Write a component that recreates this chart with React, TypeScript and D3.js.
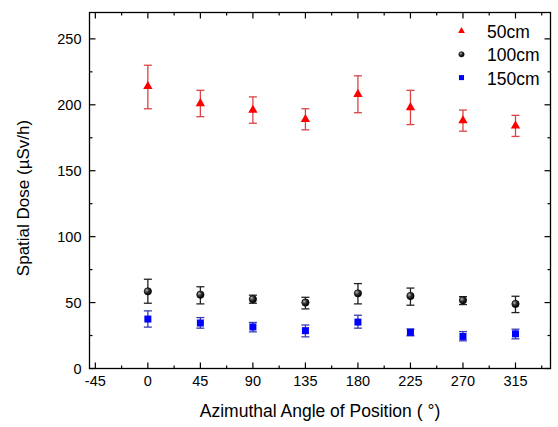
import React from 'react';
import * as d3 from 'd3';

// angles in degrees
const angles = [0, 45, 90, 135, 180, 225, 270, 315];

// spatial dose (uSv/h) at each angle, with error bar low/high
const dose50 = [214, 201, 196, 189, 208, 198, 188, 184];
const lo50 = [197, 191, 186, 181, 194, 185, 180, 176];
const hi50 = [230, 211, 206, 197, 222, 211, 196, 192];

const dose100 = [58.5, 56, 52.6, 50, 57, 55, 51.8, 49];
const lo100 = [49.5, 49, 49.5, 45.2, 49, 48, 48.5, 42.4];
const hi100 = [67.7, 62, 55.6, 54, 64.4, 61, 54.5, 54.8];

const dose150 = [37.5, 34.5, 31.5, 28.7, 35.2, 27.4, 24.3, 26.3];
const lo150 = [31.4, 30.6, 27.8, 24, 30.6, 24.8, 21, 22.5];
const hi150 = [43.7, 38.6, 34.9, 33, 40.4, 30, 28, 29.8];

const xTicks = [-45, 0, 45, 90, 135, 180, 225, 270, 315];
const xMinor = [-22.5, 22.5, 67.5, 112.5, 157.5, 202.5, 247.5, 292.5, 337.5];
const yTicks = [0, 50, 100, 150, 200, 250];
const yMinor = [25, 75, 125, 175, 225];

const seriesNames = ['50cm', '100cm', '150cm'];

const W = 558, H = 427;
const left = 89.5, right = 550.5, top = 12.5, bottom = 368.5;
const font = 'Arial, "Liberation Sans", sans-serif';

export default function App() {
  const x = d3.scaleLinear().domain([-50, 345]).range([left, right]);
  const y = d3.scaleLinear().domain([0, 270]).range([bottom, top]);

  const series = [
    { dose: dose50, lo: lo50, hi: hi50, color: '#ff0000', bar: '#d94545', shape: 'tri' },
    { dose: dose100, lo: lo100, hi: hi100, color: '#000', bar: '#222', shape: 'circ' },
    { dose: dose150, lo: lo150, hi: hi150, color: '#0000ff', bar: '#3a3ab0', shape: 'sq' },
  ];

  // k scales the marker (legend markers are drawn smaller)
  const marker = (shape: string, cx: number, cy: number, color: string, k = 1, key?: any) => {
    if (shape === 'tri') {
      const s = d3.symbol(d3.symbolTriangle, 38 * k * k)();
      return <path key={key} d={s as string} transform={`translate(${cx},${cy})`} fill={color} />;
    }
    if (shape === 'sq') {
      const h = 3.5 * k;
      return <rect key={key} x={cx - h} y={cy - h} width={2 * h} height={2 * h} fill={color} />;
    }
    return <circle key={key} cx={cx} cy={cy} r={3.7 * k} fill="url(#ball)" stroke="#000" strokeWidth={0.6} />;
  };

  return (
    <svg width={W} height={H} style={{ position: 'absolute', left: 0, top: 0, background: '#fff' }}>
      <defs>
        <radialGradient id="ball" cx="35%" cy="35%" r="65%">
          <stop offset="0%" stopColor="#bbb" />
          <stop offset="45%" stopColor="#333" />
          <stop offset="100%" stopColor="#000" />
        </radialGradient>
      </defs>
      <rect x={0} y={0} width={W} height={H} fill="#fff" />

      {/* frame */}
      <rect x={left} y={top} width={right - left} height={bottom - top} fill="none" stroke="#000" strokeWidth={1.3} />

      {/* x ticks bottom & top */}
      {xTicks.map(t => (
        <g key={'xt' + t}>
          <line x1={x(t)} x2={x(t)} y1={bottom} y2={bottom - 6} stroke="#000" strokeWidth={1.2} />
          <line x1={x(t)} x2={x(t)} y1={top} y2={top + 6} stroke="#000" strokeWidth={1.2} />
          <text x={x(t)} y={bottom + 17} textAnchor="middle" fontSize={14.5} fontFamily={font} fill="#000">{t}</text>
        </g>
      ))}
      {xMinor.map(t => (
        <g key={'xm' + t}>
          <line x1={x(t)} x2={x(t)} y1={bottom} y2={bottom - 3} stroke="#000" strokeWidth={1.2} />
          <line x1={x(t)} x2={x(t)} y1={top} y2={top + 3} stroke="#000" strokeWidth={1.2} />
        </g>
      ))}

      {/* y ticks left & right */}
      {yTicks.map(t => (
        <g key={'yt' + t}>
          <line x1={left} x2={left + 6} y1={y(t)} y2={y(t)} stroke="#000" strokeWidth={1.2} />
          <line x1={right} x2={right - 6} y1={y(t)} y2={y(t)} stroke="#000" strokeWidth={1.2} />
          <text x={left - 8} y={y(t) + 5} textAnchor="end" fontSize={14.5} fontFamily={font} fill="#000">{t}</text>
        </g>
      ))}
      {yMinor.map(t => (
        <g key={'ym' + t}>
          <line x1={left} x2={left + 3} y1={y(t)} y2={y(t)} stroke="#000" strokeWidth={1.2} />
          <line x1={right} x2={right - 3} y1={y(t)} y2={y(t)} stroke="#000" strokeWidth={1.2} />
        </g>
      ))}

      {/* error bars and markers */}
      {series.map((s, si) => (
        <g key={'s' + si}>
          {angles.map((a, i) => (
            <g key={i} stroke={s.bar} strokeWidth={1.3}>
              <line x1={x(a)} x2={x(a)} y1={y(s.lo[i])} y2={y(s.hi[i])} />
              <line x1={x(a) - 4} x2={x(a) + 4} y1={y(s.lo[i])} y2={y(s.lo[i])} />
              <line x1={x(a) - 4} x2={x(a) + 4} y1={y(s.hi[i])} y2={y(s.hi[i])} />
            </g>
          ))}
          {angles.map((a, i) => marker(s.shape, x(a), y(s.dose[i]), s.color, 1, 'm' + i))}
        </g>
      ))}

      {/* legend */}
      {seriesNames.map((n, i) => (
        <g key={'lg' + n}>
          {marker(series[i].shape, 461.5, 31 + i * 23.3, series[i].color, 0.72)}
          <text x={487} y={31 + i * 23.3 + 7} fontSize={17.5} fontFamily={font} fill="#000">{n}</text>
        </g>
      ))}

      {/* axis titles */}
      <text x={(left + right) / 2} y={417} textAnchor="middle" fontSize={17.5} fontFamily={font} fill="#000">Azimuthal Angle of Position ( °)</text>
      <text transform={`translate(29,198) rotate(-90)`} textAnchor="middle" fontSize={17} fontFamily={font} fill="#000">Spatial Dose (µSv/h)</text>
    </svg>
  );
}
